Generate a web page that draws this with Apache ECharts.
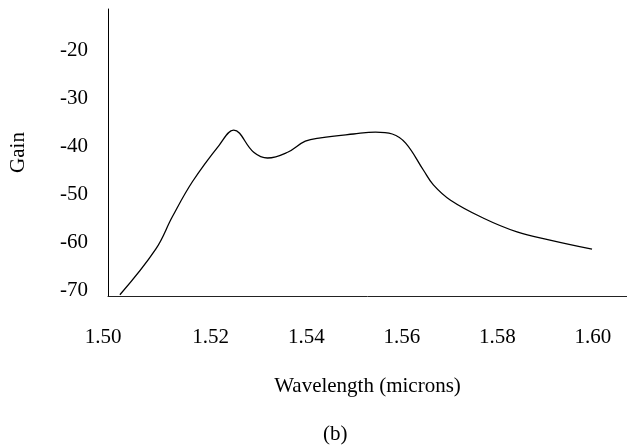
<!DOCTYPE html>
<html>
<head>
<meta charset="utf-8">
<script src="https://cdn.jsdelivr.net/npm/echarts@6/dist/echarts.min.js"></script>
<style>
  html, body { margin: 0; padding: 0; background: #fff; }
  #chart { width: 627px; height: 447px; }
</style>
</head>
<body>
<div id="chart"></div>
<script>
const wavelength = [1.5010, 1.5085, 1.5120, 1.5162, 1.5218, 1.5248, 1.5290, 1.5319,
  1.5361, 1.5398, 1.5430, 1.5499, 1.5545, 1.5580, 1.5608, 1.5645, 1.5666, 1.5702,
  1.5770, 1.5841, 1.5910, 1.5998];
const gain = [-71.0, -61.5, -54.7, -47.4, -39.8, -36.7, -41.3, -42.5,
  -41.3, -39.0, -38.3, -37.5, -37.1, -37.5, -39.4, -45.0, -48.1, -51.3,
  -55.0, -57.9, -59.6, -61.5];
const xTicks = [1.50, 1.52, 1.54, 1.56, 1.58, 1.60];
const yTicks = [-70, -60, -50, -40, -30, -20];

const font = '"Liberation Serif", "DejaVu Serif", serif';
const chart = echarts.init(document.getElementById('chart'));

chart.setOption({
  animation: false,
  title: {
    text: '(b)',
    left: 323,
    top: 424,
    padding: 0,
    textStyle: { fontFamily: font, fontSize: 21, fontWeight: 'normal', color: '#000' }
  },
  grid: { left: 107, right: 0, top: 9, bottom: 151 },
  xAxis: {
    type: 'value',
    min: 1.49851,
    max: 1.60712,
    name: 'Wavelength (microns)',
    nameLocation: 'middle',
    nameGap: 80,
    nameTextStyle: { fontFamily: font, fontSize: 21, color: '#000' },
    axisLine: { lineStyle: { color: '#222', width: 1 } },
    axisTick: { show: false },
    splitLine: { show: false },
    axisLabel: {
      customValues: xTicks,
      margin: 31,
      fontFamily: font,
      fontSize: 21,
      color: '#000',
      formatter: v => (Math.abs(v - 1.50) < 1e-6 ? '{s|' + v.toFixed(2) + '}' : v.toFixed(2)),
      rich: { s: { fontFamily: font, fontSize: 21, color: '#000', padding: [0, 24, 0, 0] } }
    }
  },
  yAxis: {
    type: 'value',
    min: -71.25,
    max: -11.46,
    name: 'Gain',
    nameLocation: 'middle',
    nameRotate: 90,
    nameGap: 79,
    nameTextStyle: { fontFamily: font, fontSize: 21, color: '#000' },
    axisLine: { show: true, lineStyle: { color: '#000', width: 1 } },
    axisTick: { show: false },
    splitLine: { show: false },
    axisLabel: {
      customValues: yTicks,
      margin: 20,
      fontFamily: font,
      fontSize: 21,
      color: '#000'
    }
  },
  series: [{
    type: 'line',
    data: wavelength.map((w, i) => [w, gain[i]]),
    smooth: 0.4,
    showSymbol: false,
    lineStyle: { color: '#000', width: 1.3 }
  }]
});
</script>
</body>
</html>
